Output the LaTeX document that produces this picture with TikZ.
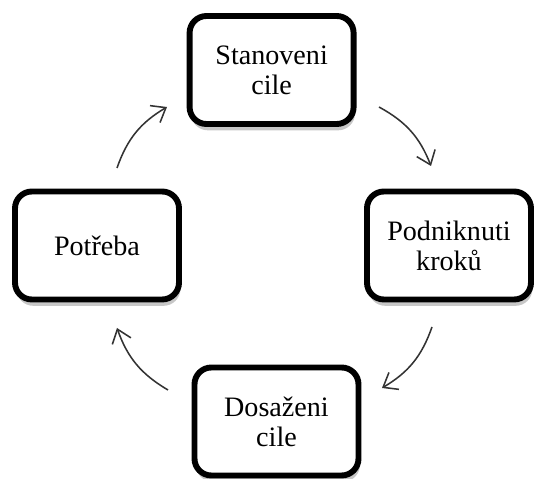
\documentclass[tikz,border=0pt]{standalone}
\usepackage{fontspec}
\newfontfamily\stagefont{Liberation Serif}
\usetikzlibrary{arrows.meta,shadows}
\begin{document}
\begin{tikzpicture}[>={Straight Barb[length=9pt,width=14pt]},
  stage/.style={draw,line width=4.2pt,rounded corners=12pt,fill=white,
    minimum width=4.1cm,minimum height=2.7cm,inner sep=2pt,align=center,
    font=\stagefont\fontsize{20}{21.5}\selectfont,
    drop shadow={shadow xshift=1pt,shadow yshift=-4.5pt,fill=black,opacity=0.22}},
  flow/.style={->,line width=1.1pt,draw=black!80,bend left=20}]
\useasboundingbox (0,0) rectangle (13.35,11.975);
\node[stage] (Cil) at (6.79,10.225) {Stanoveni\\cile};
\node[stage] (Krok) at (11.225,5.8375) {Podniknuti\\kroků};
\node[stage] (Dos) at (6.9125,1.4375) {Dosaženi\\cile};
\node[stage] (Potr) at (2.425,5.8375) {Potřeba};
\coordinate (A1s) at (9.475,9.3);
\coordinate (A1e) at (10.775,7.825);
\coordinate (A2s) at (10.8,3.8);
\coordinate (A2e) at (9.55,2.275);
\coordinate (A3s) at (4.2,2.225);
\coordinate (A3e) at (2.925,3.775);
\coordinate (A4s) at (2.925,7.775);
\coordinate (A4e) at (4.175,9.3);
\draw[flow] (A1s) to (A1e);
\draw[flow] (A2s) to (A2e);
\draw[flow] (A3s) to (A3e);
\draw[flow] (A4s) to (A4e);
\end{tikzpicture}
\end{document}
